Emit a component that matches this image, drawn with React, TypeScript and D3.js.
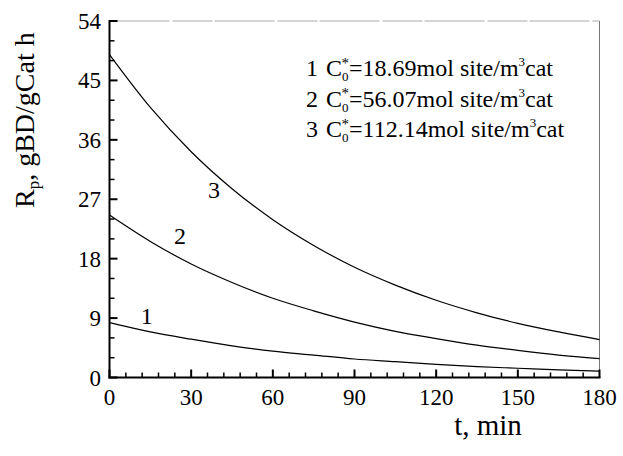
import React from "react";
import * as d3 from "d3";

const times = [0, 15, 30, 45, 60, 75, 90, 105, 120, 135, 150, 165, 180];
const curve1 = [8.3, 6.9, 5.8, 4.8, 4.0, 3.4, 2.8, 2.4, 2.0, 1.65, 1.4, 1.15, 0.95];
const curve2 = [24.6, 20.6, 17.2, 14.4, 12.0, 10.1, 8.4, 7.0, 5.9, 4.9, 4.1, 3.4, 2.87];
const curve3 = [48.9, 40.9, 34.2, 28.6, 23.9, 20.0, 16.7, 14.0, 11.7, 9.8, 8.2, 6.9, 5.75];
const seriesNames = ["1", "2", "3"];
const legendValues = ["18.69", "56.07", "112.14"];
const xTicks = [0, 30, 60, 90, 120, 150, 180];
const yTicks = [0, 9, 18, 27, 36, 45, 54];

const W = 623, H = 456;
const L = 109.5, R = 599.5, T = 21, B = 377.5;
const FONT = "'Liberation Serif', 'Times New Roman', serif";

export default function App() {
  const x = d3.scaleLinear().domain([0, 180]).range([L, R]);
  const y = d3.scaleLinear().domain([0, 54]).range([B, T]);
  const line = d3.line<number>().x((_, i) => x(times[i])).y(d => y(d)).curve(d3.curveMonotoneX);
  const series = [curve1, curve2, curve3];
  const labelPos = [[146.7, 316], [180, 236], [214, 190]];
  const xMinor = d3.range(0, 181, 6).filter(v => v % 30 !== 0);
  const yMinor = d3.range(0, 55, 3).filter(v => v % 9 !== 0);
  const legendY = [76, 106.5, 137];
  return (
    <svg width={W} height={H} style={{ position: "absolute", left: 0, top: 0, background: "#fff" }} fontFamily={FONT}>
      <rect x={0} y={0} width={W} height={H} fill="#fff" />
      {/* frame */}
      <line x1={L} y1={T} x2={R} y2={T} stroke="#aaa" strokeWidth={1} strokeDasharray="60 3 40 2" />
      <line x1={R} y1={T} x2={R} y2={B} stroke="#777" strokeWidth={1} />
      <line x1={L} y1={T - 1} x2={L} y2={B + 1} stroke="#000" strokeWidth={2} />
      <line x1={L - 1} y1={B} x2={R + 1} y2={B} stroke="#000" strokeWidth={2} />
      {/* x ticks */}
      {xTicks.map(v => (
        <g key={"xt" + v}>
          <line x1={x(v)} x2={x(v)} y1={B} y2={B - 8} stroke="#000" strokeWidth={2} />
          <text x={x(v)} y={405} fontSize={23} textAnchor="middle">{v}</text>
        </g>
      ))}
      {xMinor.map(v => (
        <line key={"xm" + v} x1={x(v)} x2={x(v)} y1={B} y2={B - 5} stroke="#000" strokeWidth={1.5} />
      ))}
      {/* y ticks */}
      {yTicks.map(v => (
        <g key={"yt" + v}>
          <line x1={L} x2={L + 8} y1={y(v)} y2={y(v)} stroke="#000" strokeWidth={2} />
          <text x={101} y={y(v) + 8} fontSize={23} textAnchor="end">{v}</text>
        </g>
      ))}
      {yMinor.map(v => (
        <line key={"ym" + v} x1={L} x2={L + 5} y1={y(v)} y2={y(v)} stroke="#000" strokeWidth={1.5} />
      ))}
      {/* curves */}
      {series.map((s, i) => (
        <path key={"c" + i} d={line(s) || ""} fill="none" stroke="#000" strokeWidth={1.2} />
      ))}
      {seriesNames.map((n, i) => (
        <text key={"l" + i} x={labelPos[i][0]} y={labelPos[i][1] + 8} fontSize={24} textAnchor="middle">{n}</text>
      ))}
      {/* legend */}
      {seriesNames.map((n, i) => (
        <text key={"lg" + i} x={306} y={legendY[i]} fontSize={24}>
          <tspan>{n}</tspan>
          <tspan x={326}>C</tspan>
          <tspan fontSize={13} dy={5}>0</tspan>
          <tspan fontSize={15} dx={-7} dy={-13.5}>*</tspan>
          <tspan dy={8.5}>{"=" + legendValues[i] + "mol site/m"}</tspan>
          <tspan fontSize={13} dy={-10}>3</tspan>
          <tspan dy={10}>cat</tspan>
        </text>
      ))}
      {/* axis titles */}
      <text x={488} y={435} fontSize={29} textAnchor="middle">t, min</text>
      <text transform={`translate(34,208) rotate(-90)`} fontSize={28}>
        <tspan>R</tspan>
        <tspan fontSize={17} dy={5}>p</tspan>
        <tspan dy={-5}>, gBD/gCat h</tspan>
      </text>
    </svg>
  );
}
